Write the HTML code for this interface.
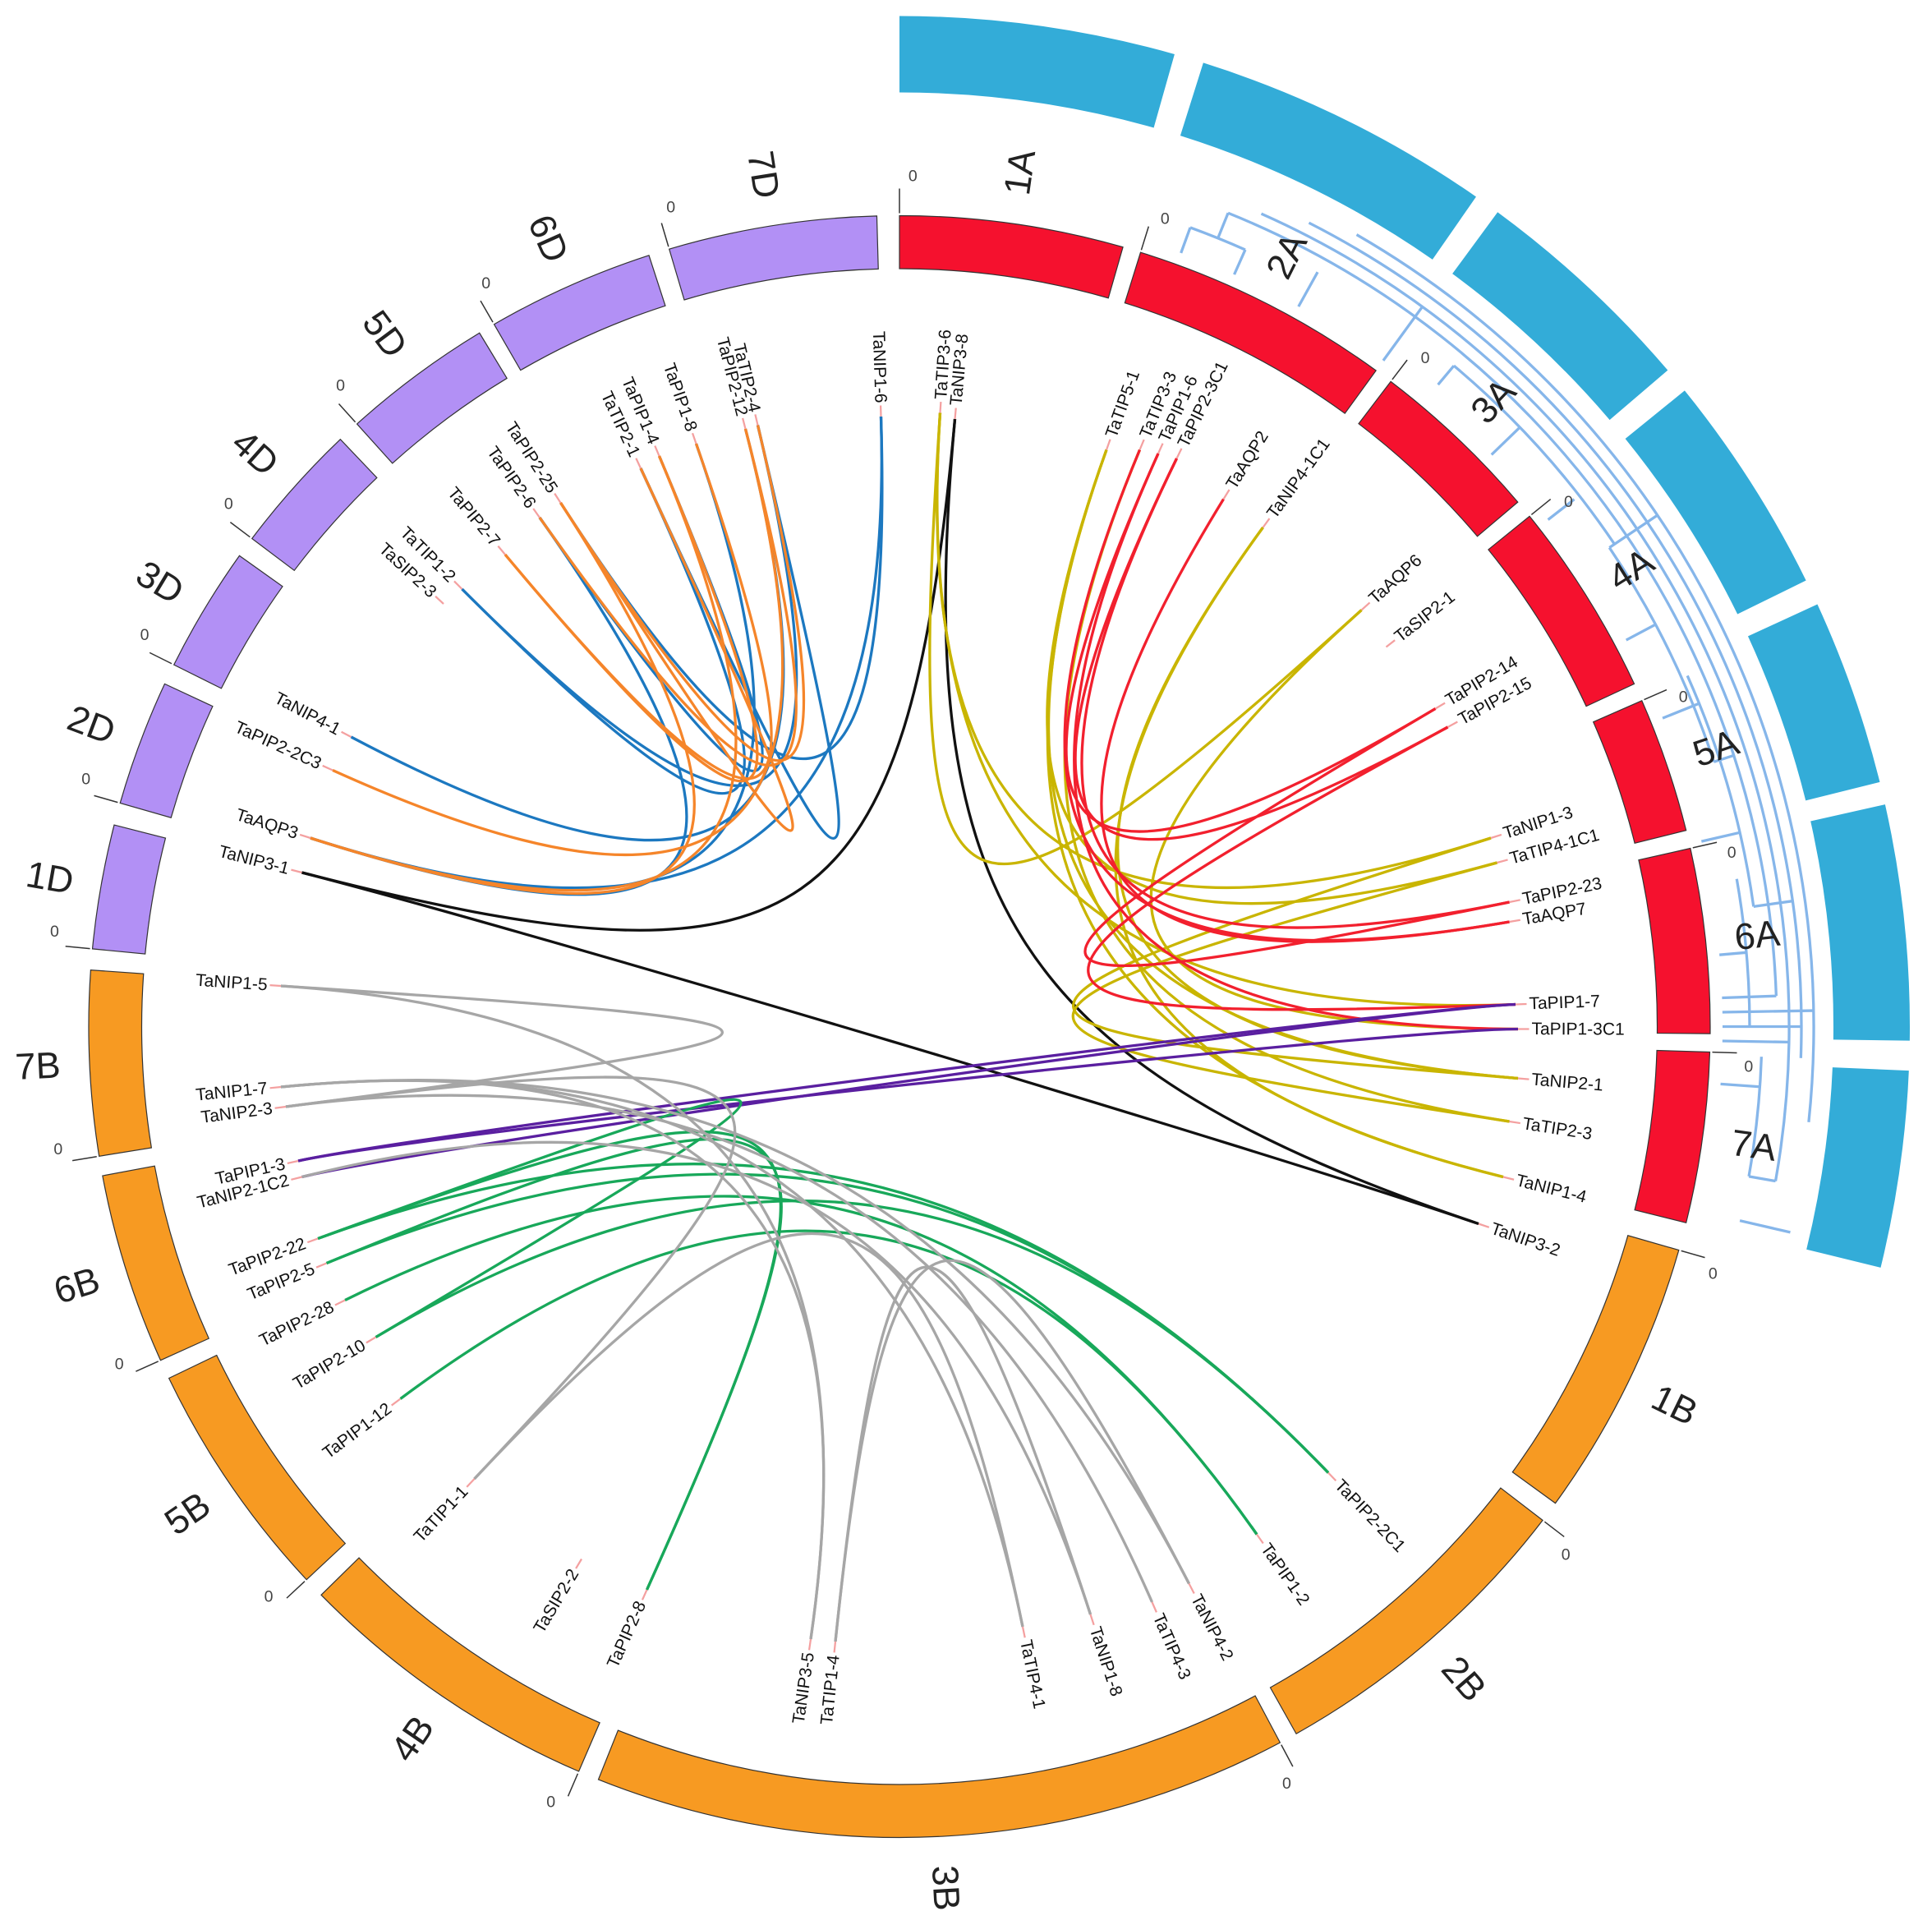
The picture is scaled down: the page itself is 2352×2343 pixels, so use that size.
<!DOCTYPE html>
<html><head><meta charset="utf-8"><style>
html,body{margin:0;padding:0;background:#fff;}
svg{display:block;}
text{font-family:"Liberation Sans","DejaVu Sans",sans-serif;}
</style></head><body>
<svg id="s" width="2352" height="2343" viewBox="0 0 1568 1562" xmlns="http://www.w3.org/2000/svg">
<g id="blue" fill="none" stroke="#86b6ea" stroke-width="2.2"></g>
<g id="ring"></g>
<g id="links" fill="none" stroke-width="2.2"></g>
<g id="labels"></g>
</svg>
<script>
var NS="http://www.w3.org/2000/svg";
var CX=730,CY=833;
function P(a,r){var t=a*Math.PI/180;return [CX+r*Math.sin(t),CY-r*Math.cos(t)];}
function el(tag,attrs,parent,txt){var e=document.createElementNS(NS,tag);for(var k in attrs)e.setAttribute(k,attrs[k]);if(txt)e.textContent=txt;document.getElementById(parent).appendChild(e);return e;}
function seg(a1,a2,r1,r2){var p1=P(a1,r2),p2=P(a2,r2),p3=P(a2,r1),p4=P(a1,r1);var l=(a2-a1)>180?1:0;
return "M"+p1+" A"+r2+","+r2+" 0 "+l+" 1 "+p2+" L"+p3+" A"+r1+","+r1+" 0 "+l+" 0 "+p4+"Z";}
function arc(a1,a2,r){var p1=P(a1,r),p2=P(a2,r);return "M"+p1+" A"+r+","+r+" 0 0 1 "+p2;}
var chr=[["1A",0,16,"#f5112e"],["2A",17.3,36,"#f5112e"],["3A",37.3,49.7,"#f5112e"],["4A",51,65,"#f5112e"],["5A",66.3,76,"#f5112e"],["6A",77.3,90.5,"#f5112e"],["7A",91.8,104,"#f5112e"],
["1B",106,126,"#f79a22"],["2B",127.5,150.7,"#f79a22"],["3B",152,201.8,"#f79a22"],["4B",203.3,225.5,"#f79a22"],["5B",227,244.3,"#f79a22"],["6B",245.7,259.4,"#f79a22"],["7B",260.8,274,"#f79a22"],
["1D",275.5,284.4,"#b290f5"],["2D",286,295,"#b290f5"],["3D",296.5,305.5,"#b290f5"],["4D",307,316.4,"#b290f5"],["5D",318,328.8,"#b290f5"],["6D",330,342,"#b290f5"],["7D",343.5,358.4,"#b290f5"]];
chr.forEach(function(c){
 el("path",{d:seg(c[1],c[2],615,658),fill:c[3],stroke:"#333","stroke-width":0.8},"ring");
 var a=(c[1]+c[2])/2,p=P(a,700),rot=(a<180)?a-90:a+90;
 el("text",{x:p[0],y:p[1],"font-size":30,"text-anchor":"middle","dominant-baseline":"central",fill:"#222",transform:"rotate("+rot+" "+p[0]+" "+p[1]+")"},"labels",c[0]);
 var t1=P(c[1],660),t2=P(c[1],680);el("line",{x1:t1[0],y1:t1[1],x2:t2[0],y2:t2[1],stroke:"#333","stroke-width":1},"ring");
 var z=P(c[1]+0.9,690);el("text",{x:z[0],y:z[1],"font-size":13,"text-anchor":"middle","dominant-baseline":"central",fill:"#444"},"labels","0");
});
// blue outer
[[0,15.8],[17.5,34.8],[36.3,49.5],[51,63.8],[65.3,76],[77.3,90.8],[92.5,103.8]].forEach(function(b){el("path",{d:seg(b[0],b[1],758,820),fill:"#33acd8"},"ring");});
// blue tree approximation
var bl=[[20,24,690],[22,88,712],[24,100,722],[27,92,732],[30,96,742],[40,56,700],[56,72,695],[66,82,700],[80,90,690],[92,100,700]];
bl.forEach(function(b){el("path",{d:arc(b[0],b[1],b[2])},"blue");});
[[20,668,690],[24,668,690],[22,690,712],[29,668,700],[36,668,722],[40,680,700],[46,668,700],[52,668,695],[56,695,742],[62,668,695],[68,668,700],[72,695,712],[77,668,700],[82,700,732],[85,668,690],[88,668,712],[89,668,742],[90,668,732],[91,668,722],[94,668,700],[100,700,722],[103,700,742]].forEach(function(b){var p1=P(b[0],b[1]),p2=P(b[0],b[2]);el("line",{x1:p1[0],y1:p1[1],x2:p2[0],y2:p2[1]},"blue");});
// genes
var G={"TaNIP1-6":[715,338],"TaTIP3-6":[763,335],"TaNIP3-8":[775,340],"TaTIP5-1":[898,365],"TaTIP3-3":[925,365],"TaPIP1-6":[940,368],"TaPIP2-3C1":[955,372],"TaAQP2":[993,405],"TaNIP4-1C1":[1025,428],"TaAQP6":[1105,495],"TaSIP2-1":[1125,525],"TaPIP2-14":[1165,575],"TaPIP2-15":[1175,590],"TaNIP1-3":[1210,680],"TaTIP4-1C1":[1215,700],"TaPIP2-23":[1225,732],"TaAQP7":[1225,748],"TaPIP1-7":[1230,815],"TaPIP1-3C1":[1232,835],"TaNIP2-1":[1232,875],"TaTIP2-3":[1225,910],"TaNIP1-4":[1220,955],"TaNIP3-2":[1200,993],
"TaPIP2-2C1":[1078,1195],"TaPIP1-2":[1020,1245],"TaNIP4-2":[965,1285],"TaTIP4-3":[935,1300],"TaNIP1-8":[885,1310],"TaTIP4-1":[830,1320],"TaTIP1-4":[678,1332],"TaNIP3-5":[658,1330],"TaPIP2-8":[525,1290],"TaSIP2-2":[472,1265],"TaTIP1-1":[385,1200],"TaPIP1-12":[325,1135],"TaPIP2-10":[305,1085],"TaPIP2-28":[280,1055],"TaPIP2-5":[265,1025],"TaPIP2-22":[258,1005],"TaNIP2-1C2":[245,955],"TaPIP1-3":[242,942],"TaNIP2-3":[232,898],"TaNIP1-7":[228,882],"TaNIP1-5":[228,800],"TaNIP3-1":[245,708],"TaAQP3":[252,680],"TaPIP2-2C3":[270,625],"TaNIP4-1":[285,598],"TaSIP2-3":[360,490],"TaTIP1-2":[375,478],"TaPIP2-7":[410,450],"TaPIP2-6":[438,420],"TaPIP2-25":[455,408],"TaTIP2-1":[520,380],"TaPIP1-4":[535,370],"TaPIP1-8":[565,360],"TaPIP2-12":[605,348],"TaTIP2-4":[615,345]};
for(var n in G){var x=G[n][0],y=G[n][1];var a=Math.atan2(x-CX,CY-y)*180/Math.PI;if(a<0)a+=360;var r=Math.hypot(x-CX,y-CY);
 var t1=P(a,r),t2=P(a,r+9);el("line",{x1:t1[0],y1:t1[1],x2:t2[0],y2:t2[1],stroke:"#f4a0a0","stroke-width":1.5},"labels");
 var q=P(a,r+11);var right=a<180;var rot=right?a-90:a+90;
 el("text",{x:q[0],y:q[1],"font-size":14,"text-anchor":right?"start":"end","dominant-baseline":"central",fill:"#111",transform:"rotate("+rot+" "+q[0]+" "+q[1]+")"},"labels",n);}
function L(a,b,col,k){k=k||0.3;var p=G[a],q=G[b];var c1=[CX+(p[0]-CX)*k,CY+(p[1]-CY)*k],c2=[CX+(q[0]-CX)*k,CY+(q[1]-CY)*k];
 el("path",{d:"M"+p+" C"+c1+" "+c2+" "+q,stroke:col},"links");}
var K="#111",Y="#c9b500",R="#f2202e",U="#5a1fa0",B="#1c78c0",O="#f5852a",Gn="#18a85a",Gy="#a6a6a6";
[["TaNIP3-8","TaNIP3-1",0.15],["TaNIP3-8","TaNIP3-2",0.2],["TaNIP3-1","TaNIP3-2",0.6]].forEach(function(l){L(l[0],l[1],K,l[2]);});
[["TaTIP3-6","TaNIP1-3"],["TaTIP3-6","TaAQP6",0.1],["TaTIP5-1","TaTIP4-1C1"],["TaTIP5-1","TaNIP2-1"],["TaTIP3-3","TaTIP2-3"],["TaNIP4-1C1","TaNIP1-4"],["TaAQP6","TaPIP1-3C1"],["TaNIP1-3","TaNIP2-1",0.05],["TaTIP4-1C1","TaTIP2-3",0.05],["TaTIP3-6","TaPIP1-7"],["TaNIP4-1C1","TaNIP2-1"],["TaTIP5-1","TaNIP1-4"]].forEach(function(l){L(l[0],l[1],Y,l[2]);});
[["TaPIP1-6","TaPIP2-14"],["TaPIP2-3C1","TaPIP2-23"],["TaAQP2","TaAQP7"],["TaPIP1-6","TaPIP1-3C1"],["TaPIP2-15","TaPIP1-7",0.1],["TaPIP2-14","TaPIP2-23",0.1],["TaTIP3-3","TaAQP7"],["TaPIP2-3C1","TaPIP2-15"]].forEach(function(l){L(l[0],l[1],R,l[2]);});
[["TaPIP1-7","TaPIP1-3",0.8],["TaPIP1-3C1","TaPIP1-3",0.8],["TaPIP1-7","TaNIP2-1C2",0.8]].forEach(function(l){L(l[0],l[1],U,l[2]);});
[["TaNIP1-6","TaAQP3"],["TaTIP2-4","TaTIP1-2"],["TaPIP2-12","TaNIP4-1"],["TaPIP1-8","TaAQP3"],["TaTIP2-1","TaTIP1-2"],["TaPIP1-4","TaPIP2-6"],["TaNIP1-6","TaPIP2-25"],["TaTIP2-4","TaTIP2-1",0.1],["TaPIP2-6","TaAQP3"]].forEach(function(l){L(l[0],l[1],B,l[2]);});
[["TaPIP2-12","TaPIP2-2C3"],["TaPIP2-25","TaAQP3"],["TaPIP2-7","TaPIP1-4"],["TaPIP1-8","TaPIP2-7"],["TaTIP2-4","TaPIP2-25"],["TaPIP2-6","TaPIP2-12"],["TaPIP1-4","TaAQP3"],["TaPIP2-25","TaTIP2-1",0.15]].forEach(function(l){L(l[0],l[1],O,l[2]);});
[["TaPIP2-22","TaPIP2-2C1"],["TaPIP2-5","TaPIP2-2C1"],["TaPIP2-28","TaPIP1-2"],["TaPIP2-10","TaPIP2-2C1"],["TaPIP1-12","TaPIP1-2"],["TaPIP2-8","TaPIP2-22",0.1],["TaPIP2-8","TaPIP2-5",0.1],["TaPIP2-10","TaPIP2-22",0.05]].forEach(function(l){L(l[0],l[1],Gn,l[2]);});
[["TaNIP1-5","TaNIP2-3",0.05],["TaNIP1-7","TaNIP4-2"],["TaNIP2-3","TaTIP4-3"],["TaNIP2-1C2","TaNIP1-8"],["TaTIP1-1","TaTIP4-1",0.2],["TaNIP3-5","TaNIP1-7"],["TaTIP1-4","TaNIP4-2",0.2],["TaNIP1-5","TaNIP3-5"],["TaTIP1-1","TaNIP2-3",0.1],["TaTIP1-4","TaNIP1-8",0.2],["TaNIP1-7","TaTIP4-1"]].forEach(function(l){L(l[0],l[1],Gy,l[2]);});
</script>
</body></html>
